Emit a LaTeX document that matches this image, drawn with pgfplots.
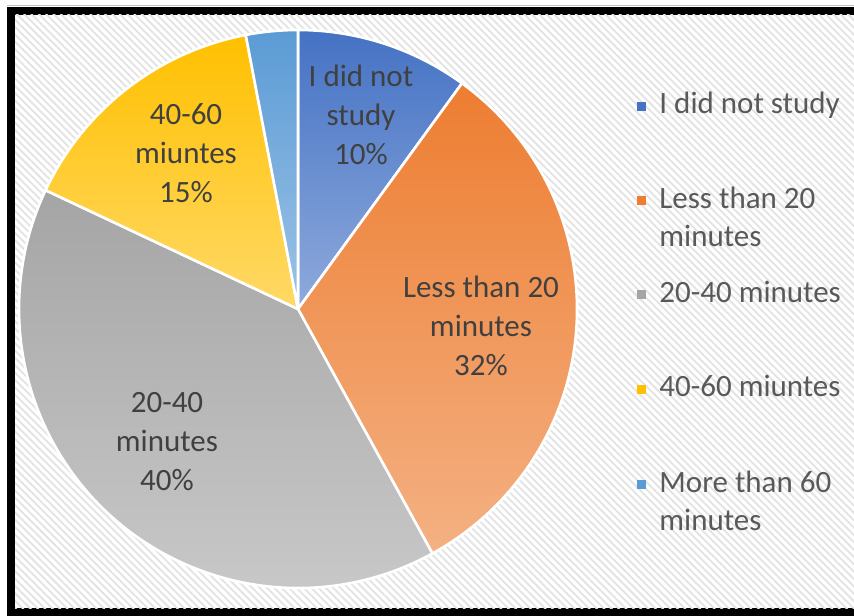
\documentclass[border=0pt]{standalone}
\usepackage{pgfplots}
\pgfplotsset{compat=1.18}
\usepackage{pgfplotstable}
\usepackage{fontspec}
\setmainfont{Carlito}
\usetikzlibrary{patterns.meta}

\definecolor{blueTop}{HTML}{4472C4}
\definecolor{blueBot}{HTML}{8FAADC}
\definecolor{orTop}{HTML}{ED7D31}
\definecolor{orBot}{HTML}{F4B183}
\definecolor{grTop}{HTML}{A5A5A5}
\definecolor{grBot}{HTML}{CBCBCB}
\definecolor{yeTop}{HTML}{FFC000}
\definecolor{yeBot}{HTML}{FFD966}
\definecolor{lbTop}{HTML}{5B9BD5}
\definecolor{lbBot}{HTML}{9DC3E6}
\definecolor{lbl}{HTML}{404040}
\definecolor{leg}{HTML}{595959}

% share of students, in percent, clockwise from 12 o'clock
\pgfplotstableread{
idx value
0 10
1 32
2 40
3 15
4 3
}\piedata

\begin{document}
\begin{tikzpicture}
\begin{axis}[
    name=pie,
    width=427pt, height=307.5pt, scale only axis,
    xmin=0, xmax=854, ymin=0, ymax=615, y dir=reverse,
    hide axis, clip=false,
]
% frame and hatched chart area
\fill[white] (axis cs:0,0) rectangle (axis cs:854,615);
\fill[black] (axis cs:7,7) rectangle (axis cs:858,619);
\fill[white] (axis cs:15,15) rectangle (axis cs:858,608);
\fill[pattern={Lines[angle=-45,distance=2.6pt,line width=0.9pt]}, pattern color=black!11]
    (axis cs:15,15) rectangle (axis cs:858,608);
\draw[gray!50, line width=0.5pt] (axis cs:7,5.5) -- (axis cs:858,5.5);

% slices
\pgfplotsextra{
  \xdef\angstart{90}
  \foreach \i/\ct/\cb in {0/blueTop/blueBot, 1/orTop/orBot, 2/grTop/grBot, 3/yeTop/yeBot, 4/lbTop/lbBot}{
    \pgfplotstablegetelem{\i}{value}\of\piedata
    \pgfmathsetmacro\angend{\angstart-3.6*\pgfplotsretval}
    \shadedraw[top color=\ct, bottom color=\cb, draw=white, line width=1.3pt, line join=round]
      (axis cs:298,309) -- ++(\angstart:139.5pt)
      arc[start angle=\angstart, end angle=\angend, radius=139.5pt] -- cycle;
    \xdef\angstart{\angend}
  }
}

% slice labels
\begin{scope}[every node/.style={align=center, text=lbl, inner sep=0pt,
    font=\fontsize{15.5}{19.5}\selectfont}]
\node at (axis cs:361,115) {I did not\\study\\10\%};
\node at (axis cs:481,326) {Less than 20\\minutes\\32\%};
\node at (axis cs:167,442) {20-40\\minutes\\40\%};
\node at (axis cs:186,153) {40-60\\miuntes\\15\%};
\end{scope}

% legend
\fill[blueTop] (axis cs:636.5,102) rectangle (axis cs:645.5,111);
\fill[orTop]   (axis cs:636.5,195.5) rectangle (axis cs:645.5,204.5);
\fill[grTop]   (axis cs:636.5,289.5) rectangle (axis cs:645.5,298.5);
\fill[yeTop]   (axis cs:636.5,385) rectangle (axis cs:645.5,394);
\fill[lbTop]   (axis cs:636.5,480) rectangle (axis cs:645.5,489);
\begin{scope}[every node/.style={anchor=base west, text=leg, inner sep=0pt,
    font=\fontsize{15.5}{19.5}\selectfont}]
\node at (axis cs:659,113.5) {I did not study};
\node at (axis cs:659,208) {Less than 20};
\node at (axis cs:659,246) {minutes};
\node at (axis cs:659,302) {20-40 minutes};
\node at (axis cs:659,396) {40-60 miuntes};
\node at (axis cs:659,492) {More than 60};
\node at (axis cs:659,530) {minutes};
\end{scope}
\end{axis}
\pgfresetboundingbox
\path[use as bounding box] (pie.south west) rectangle (pie.north east);
\end{tikzpicture}
\end{document}
